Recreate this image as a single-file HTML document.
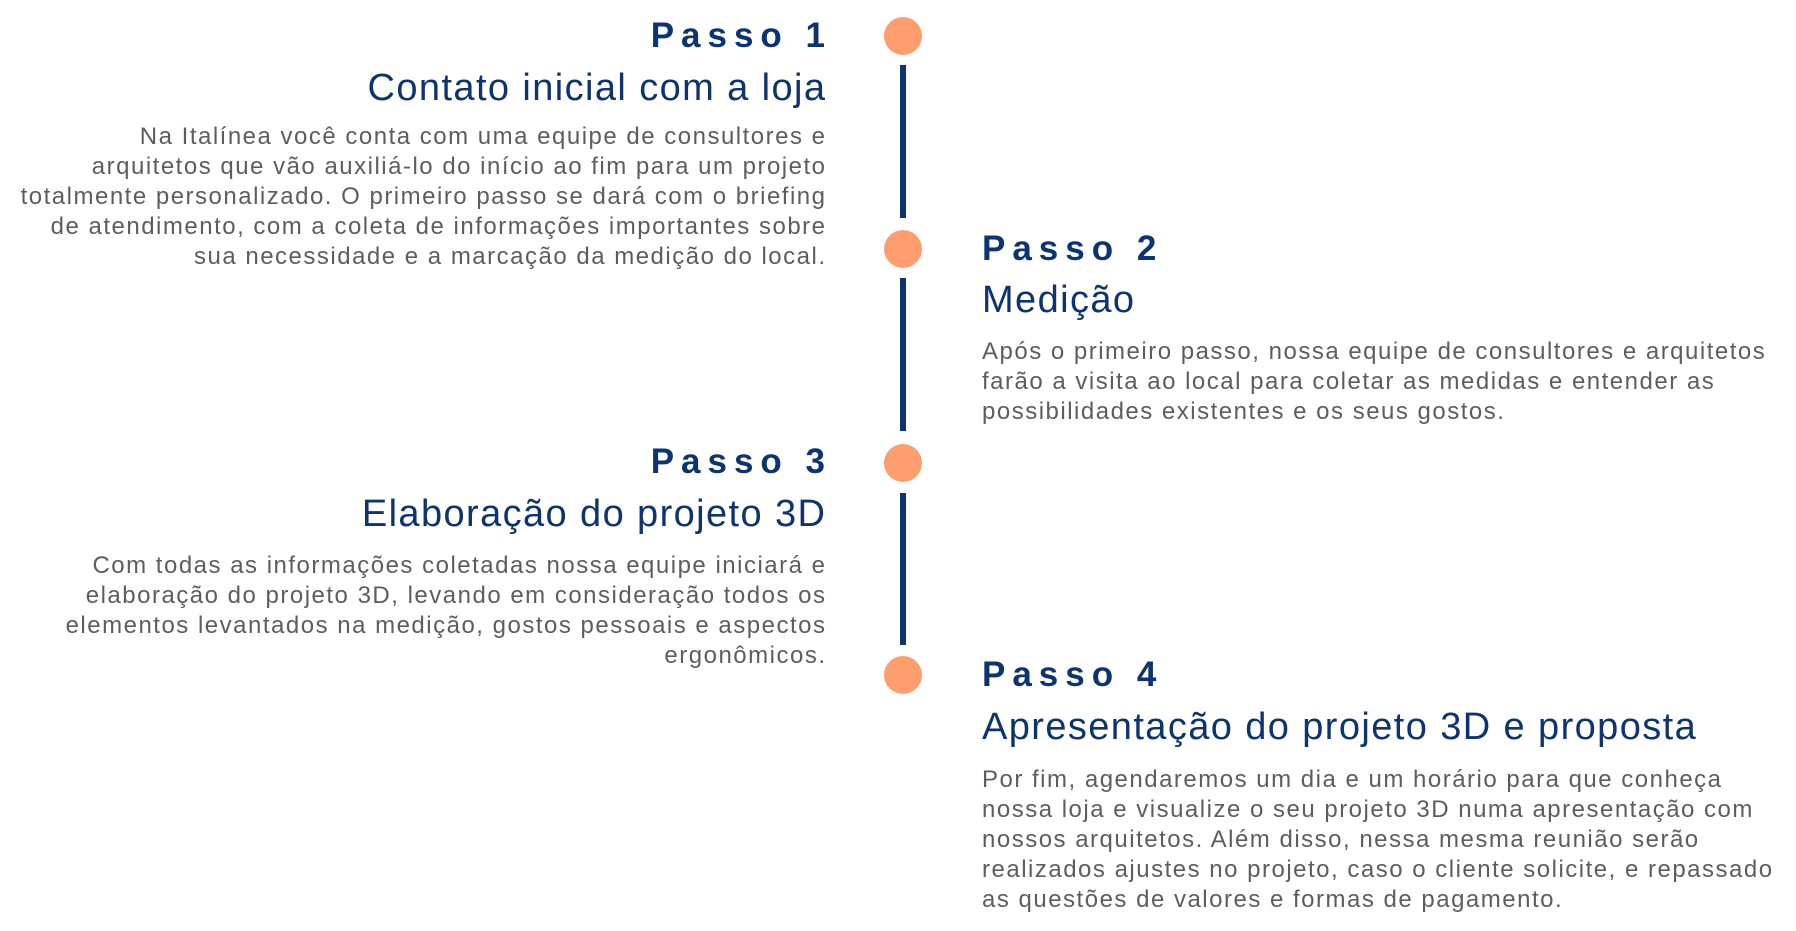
<!DOCTYPE html>
<html><head><meta charset="utf-8"><style>
body{margin:0;width:1796px;height:931px;background:#fff;position:relative;overflow:hidden;font-family:"Liberation Sans",sans-serif}
.p{position:absolute;font-size:35px;line-height:40px;font-weight:bold;color:#0d3370;letter-spacing:7px;white-space:nowrap}
.s{position:absolute;font-size:38px;line-height:40px;color:#0d3370;white-space:nowrap;letter-spacing:1.4px}
.b{position:absolute;font-size:24px;line-height:30px;color:#5d5d5d;white-space:nowrap;letter-spacing:1.5px}
.L{right:971px;text-align:right}
.R{left:982px;text-align:left}
.c{position:absolute;left:884px;width:38px;height:38px;border-radius:50%;background:#fe9e6f}
.v{position:absolute;left:900px;width:6px;background:#0d3370}
</style></head><body>
<div class="c" style="top:17px"></div>
<div class="c" style="top:230px"></div>
<div class="c" style="top:444px"></div>
<div class="c" style="top:656px"></div>
<div class="v" style="top:65px;height:153px"></div>
<div class="v" style="top:278px;height:153px"></div>
<div class="v" style="top:493px;height:152px"></div>

<div class="p L" style="top:16px;margin-right:-7px">Passo 1</div>
<div class="s L" style="top:68px;margin-right:-1.4px">Contato inicial com a loja</div>
<div class="b L" style="top:122px;margin-right:-1.5px">Na Italínea você conta com uma equipe de consultores e<br>arquitetos que vão auxiliá-lo do início ao fim para um projeto<br>totalmente personalizado. O primeiro passo se dará com o briefing<br>de atendimento, com a coleta de informações importantes sobre<br>sua necessidade e a marcação da medição do local.</div>

<div class="p R" style="top:229px">Passo 2</div>
<div class="s R" style="top:280px">Medição</div>
<div class="b R" style="top:337px">Após o primeiro passo, nossa equipe de consultores e arquitetos<br>farão a visita ao local para coletar as medidas e entender as<br>possibilidades existentes e os seus gostos.</div>

<div class="p L" style="top:442px;margin-right:-7px">Passo 3</div>
<div class="s L" style="top:494px;margin-right:-1.4px">Elaboração do projeto 3D</div>
<div class="b L" style="top:551px;margin-right:-1.5px">Com todas as informações coletadas nossa equipe iniciará e<br>elaboração do projeto 3D, levando em consideração todos os<br>elementos levantados na medição, gostos pessoais e aspectos<br>ergonômicos.</div>

<div class="p R" style="top:655px">Passo 4</div>
<div class="s R" style="top:707px">Apresentação do projeto 3D e proposta</div>
<div class="b R" style="top:765px">Por fim, agendaremos um dia e um horário para que conheça<br>nossa loja e visualize o seu projeto 3D numa apresentação com<br>nossos arquitetos. Além disso, nessa mesma reunião serão<br>realizados ajustes no projeto, caso o cliente solicite, e repassado<br>as questões de valores e formas de pagamento.</div>
</body></html>
